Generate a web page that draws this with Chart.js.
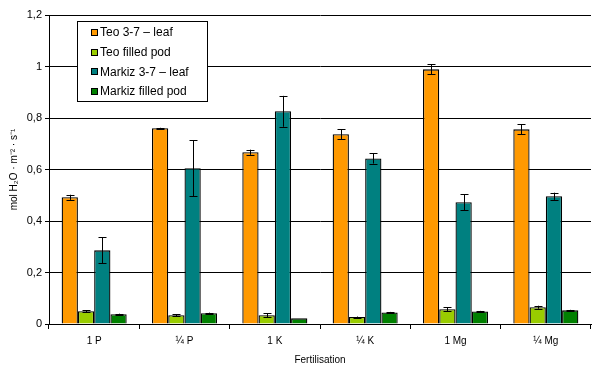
<!DOCTYPE html>
<html lang="en">
<head>
  <meta charset="UTF-8" />
  <title>Transpiration by fertilisation</title>
  <style>
    body { margin: 0; background: #fff; }
    #chart { display: block; }
  </style>
</head>
<body>
  <canvas id="chart" width="597" height="376"></canvas>

  <script src="https://cdn.jsdelivr.net/npm/chart.js"></script>
  <script>
    // categories and series values
    const categories = ['1 P', '¼ P', '1 K', '¼ K', '1 Mg', '¼ Mg'];

    const teoLeaf     = [0.492, 0.760, 0.667, 0.737, 0.989, 0.756];
    const teoPod      = [0.050, 0.034, 0.034, 0.027, 0.057, 0.065];
    const markizLeaf  = [0.286, 0.605, 0.826, 0.643, 0.473, 0.496];
    const markizPod   = [0.038, 0.042, 0.022, 0.045, 0.049, 0.053];

    // error bar half-lengths
    const teoLeafErr    = [0.010, 0.002, 0.010, 0.020, 0.020, 0.020];
    const teoPodErr     = [0.004, 0.003, 0.008, 0.002, 0.008, 0.006];
    const markizLeafErr = [0.050, 0.109, 0.060, 0.020, 0.031, 0.014];
    const markizPodErr  = [0.002, 0.002, 0.000, 0.002, 0.002, 0.002];

    const FONT = 'Liberation Sans, Arial, sans-serif';

    function makeSet(label, data, err, color) {
      return {
        label: label,
        data: data,
        err: err,
        backgroundColor: color,
        borderColor: '#000',
        borderWidth: 1.3,
        borderSkipped: 'bottom'
      };
    }

    // draws the whisker bars on top of each column
    const errorBars = {
      id: 'errorBars',
      afterDatasetsDraw(chart) {
        const ctx = chart.ctx;
        const y = chart.scales.y;
        ctx.save();
        ctx.strokeStyle = '#000';
        ctx.lineWidth = 1;
        chart.data.datasets.forEach((ds, i) => {
          const meta = chart.getDatasetMeta(i);
          meta.data.forEach((bar, j) => {
            const e = ds.err[j];
            if (!e) return;
            const x = Math.round(bar.x) + 0.5;
            const top = y.getPixelForValue(ds.data[j] + e);
            const bot = y.getPixelForValue(ds.data[j] - e);
            ctx.beginPath();
            ctx.moveTo(x, top);
            ctx.lineTo(x, bot);
            ctx.moveTo(x - 4, Math.round(top) + 0.5);
            ctx.lineTo(x + 4, Math.round(top) + 0.5);
            ctx.moveTo(x - 4, Math.round(bot) + 0.5);
            ctx.lineTo(x + 4, Math.round(bot) + 0.5);
            ctx.stroke();
          });
        });
        ctx.restore();
      }
    };

    // boxed legend sitting inside the plot, top left
    const boxLegend = {
      id: 'boxLegend',
      afterDraw(chart) {
        const ctx = chart.ctx;
        const bx = 77, by = 21, bw = 130, bh = 80;
        ctx.save();
        ctx.fillStyle = '#fff';
        ctx.fillRect(bx, by, bw, bh);
        ctx.strokeStyle = '#000';
        ctx.lineWidth = 1;
        ctx.strokeRect(bx + 0.5, by + 0.5, bw, bh);
        ctx.font = '12px ' + FONT;
        ctx.textBaseline = 'middle';
        chart.data.datasets.forEach((ds, i) => {
          const cy = 32 + i * 19.6;
          ctx.fillStyle = ds.backgroundColor;
          ctx.fillRect(91, Math.round(cy) - 3, 7, 7);
          ctx.strokeRect(91.5, Math.round(cy) - 2.5, 6, 6);
          ctx.fillStyle = '#000';
          ctx.fillText(ds.label, 100, cy + 1);
        });
        ctx.restore();
      }
    };

    new Chart(document.getElementById('chart'), {
      type: 'bar',
      data: {
        labels: categories,
        datasets: [
          makeSet('Teo 3-7 – leaf', teoLeaf, teoLeafErr, '#FF9900'),
          makeSet('Teo filled pod', teoPod, teoPodErr, '#99CC00'),
          makeSet('Markiz 3-7 – leaf', markizLeaf, markizLeafErr, '#008080'),
          makeSet('Markiz filled pod', markizPod, markizPodErr, '#008000')
        ]
      },
      plugins: [errorBars, boxLegend],
      options: {
        responsive: false,
        animation: false,
        layout: { padding: { top: 15, right: 6, left: 0, bottom: 0 } },
        datasets: {
          bar: { categoryPercentage: 0.72, barPercentage: 1.0 }
        },
        plugins: {
          legend: { display: false },
          tooltip: { enabled: false }
        },
        scales: {
          x: {
            afterFit: s => { s.height = 52; },
            grid: { drawOnChartArea: false, color: '#000', tickLength: 5 },
            border: { color: '#000' },
            ticks: { color: '#000', font: { family: FONT, size: 10 }, padding: 6 },
            title: {
              display: true,
              text: 'Fertilisation',
              color: '#000',
              font: { family: FONT, size: 10 },
              padding: { top: 2, bottom: 10 }
            }
          },
          y: {
            min: 0,
            max: 1.2,
            afterFit: s => { s.width = 49; },
            grid: { color: '#000', tickLength: 4 },
            border: { color: '#000' },
            ticks: {
              stepSize: 0.2,
              color: '#000',
              padding: 3,
              font: { family: FONT, size: 11 },
              callback: v => String(Math.round(v * 10) / 10).replace('.', ',')
            },
            title: {
              display: true,
              text: 'mol H₂O · m⁻² · s⁻¹',
              color: '#000',
              font: { family: FONT, size: 10 },
              padding: { top: 8, bottom: 0 }
            }
          }
        }
      }
    });
  </script>
</body>
</html>
